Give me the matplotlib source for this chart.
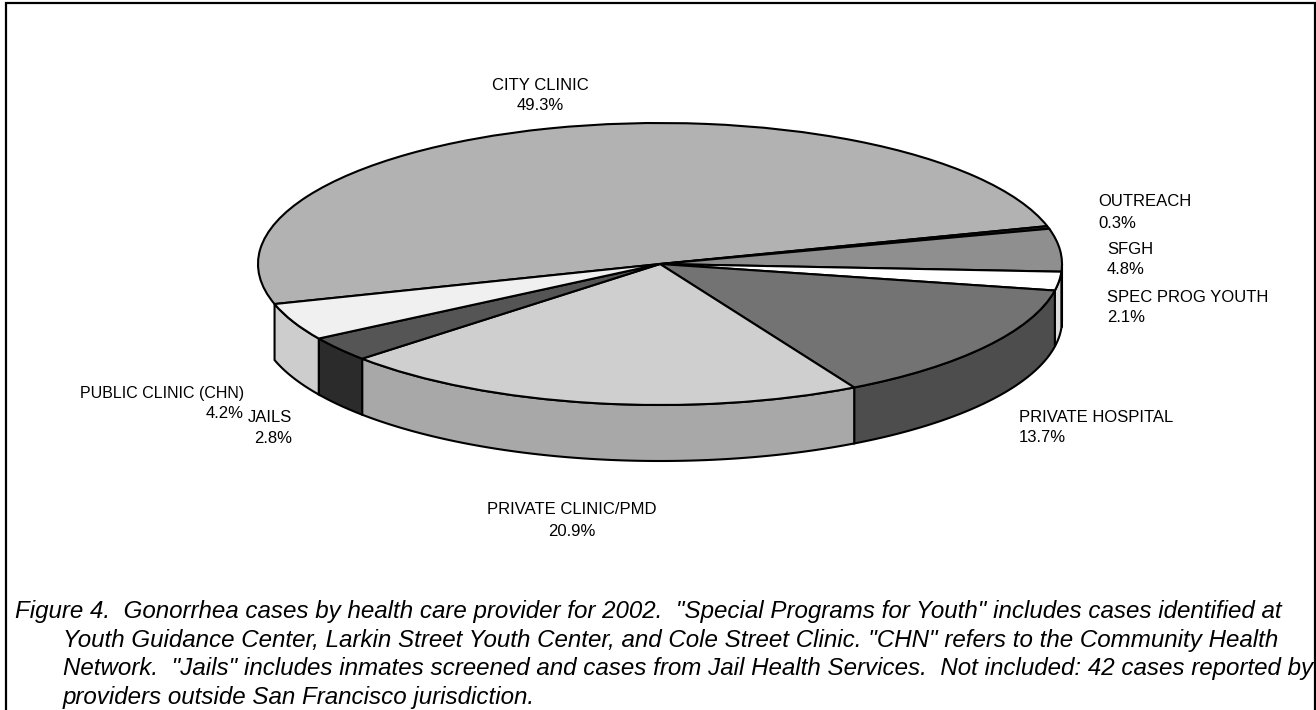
from __future__ import annotations

import matplotlib
import numpy as np

matplotlib.use("Agg")

from matplotlib import pyplot as plt  # noqa: E402
from matplotlib.patches import Polygon  # noqa: E402

WIDTH_PX = 1316
HEIGHT_PX = 710

providers = [
    "CITY CLINIC",
    "OUTREACH",
    "SFGH",
    "SPEC PROG YOUTH",
    "PRIVATE HOSPITAL",
    "PRIVATE CLINIC/PMD",
    "JAILS",
    "PUBLIC CLINIC (CHN)",
]
percents = [49.3, 0.3, 4.8, 2.1, 13.7, 20.9, 2.8, 4.2]
top_colors = ["#b2b2b2", "#333333", "#8f8f8f", "#ffffff", "#737373", "#cfcfcf", "#555555", "#f0f0f0"]
wall_colors = ["#8c8c8c", "#1a1a1a", "#6e6e6e", "#dddddd", "#4d4d4d", "#a8a8a8", "#2b2b2b", "#cdcdcd"]

caption_lines = [
    'Figure 4.  Gonorrhea cases by health care provider for 2002.  "Special Programs for Youth" includes cases identified at',
    'Youth Guidance Center, Larkin Street Youth Center, and Cole Street Clinic. "CHN" refers to the Community Health',
    'Network.  "Jails" includes inmates screened and cases from Jail Health Services.  Not included: 42 cases reported by',
    "providers outside San Francisco jurisdiction.",
]

plt.rcParams["font.family"] = ["Liberation Sans", "DejaVu Sans"]

figure = plt.figure(figsize=(WIDTH_PX / 100, HEIGHT_PX / 100), dpi=100)
page = figure.add_axes([0, 0, 1, 1])
page.set_xlim(0, WIDTH_PX)
page.set_ylim(HEIGHT_PX, 0)
page.axis("off")
# frame is open at the bottom, the crop cuts it off
page.plot([6, 6, 1315, 1315], [HEIGHT_PX, 3, 3, HEIGHT_PX], color="black", linewidth=1.6, solid_joinstyle="miter")

# unit-circle pie squashed into an ellipse, pixel box worked out from the picture
center_x, center_y = 660, 264
radius_x, radius_y = 402, 141
depth = 56 / radius_y
axis = figure.add_axes([
    (center_x - radius_x) / WIDTH_PX,
    1 - (center_y + radius_y) / HEIGHT_PX,
    2 * radius_x / WIDTH_PX,
    2 * radius_y / HEIGHT_PX,
])
axis.patch.set_alpha(0)

shares = np.array(percents) / sum(percents)
start_angle = 196.5
edges = start_angle - 360 * np.concatenate([[0], np.cumsum(shares)])

# side walls first, only the part of a slice on the front half shows
for index in range(len(percents)):
    high, low = edges[index], edges[index + 1]
    spans = []
    for base in (-180, -540):
        lo = max(low, base)
        hi = min(high, base + 180)
        if hi > lo:
            spans.append((lo, hi))
    for lo, hi in spans:
        theta = np.radians(np.linspace(lo, hi, 80))
        top = np.column_stack([np.cos(theta), np.sin(theta)])
        bottom = top[::-1] - [0, depth]
        wall = Polygon(np.vstack([top, bottom]), closed=True, facecolor=wall_colors[index],
                       edgecolor="black", linewidth=1.5, clip_on=False)
        axis.add_patch(wall)

wedges, _ = axis.pie(
    shares,
    colors=top_colors,
    startangle=start_angle,
    counterclock=False,
    normalize=False,
    wedgeprops={"edgecolor": "black", "linewidth": 1.5, "clip_on": False},
)
axis.set_aspect("auto")
axis.set_xlim(-1, 1)
axis.set_ylim(-1, 1)
axis.axis("off")

# x, baseline of name, baseline of percent, alignment
label_positions = {
    "CITY CLINIC": (540, 90, 110, "center"),
    "OUTREACH": (1098, 206, 228, "left"),
    "SFGH": (1107, 254, 274, "left"),
    "SPEC PROG YOUTH": (1107, 302, 322, "left"),
    "PRIVATE HOSPITAL": (1019, 422, 442, "left"),
    "PRIVATE CLINIC/PMD": (572, 514, 536, "center"),
    "JAILS": (292, 422, 443, "right"),
    "PUBLIC CLINIC (CHN)": (244, 398, 418, "right"),
}
for provider, percent in zip(providers, percents):
    x, name_y, percent_y, align = label_positions[provider]
    name_size = 11.5 if provider == "PUBLIC CLINIC (CHN)" else 12
    page.text(x, name_y, provider, fontsize=name_size, ha=align, va="baseline")
    page.text(x, percent_y, f"{percent}%", fontsize=12, ha=align, va="baseline")

caption_y = [618, 647, 675, 704]
caption_x = [15, 63, 63, 63]
for x, y, line in zip(caption_x, caption_y, caption_lines):
    page.text(x, y, line, fontsize=17.35, style="italic", va="baseline")

figure.savefig("out.png", dpi=100)
plt.close(figure)
